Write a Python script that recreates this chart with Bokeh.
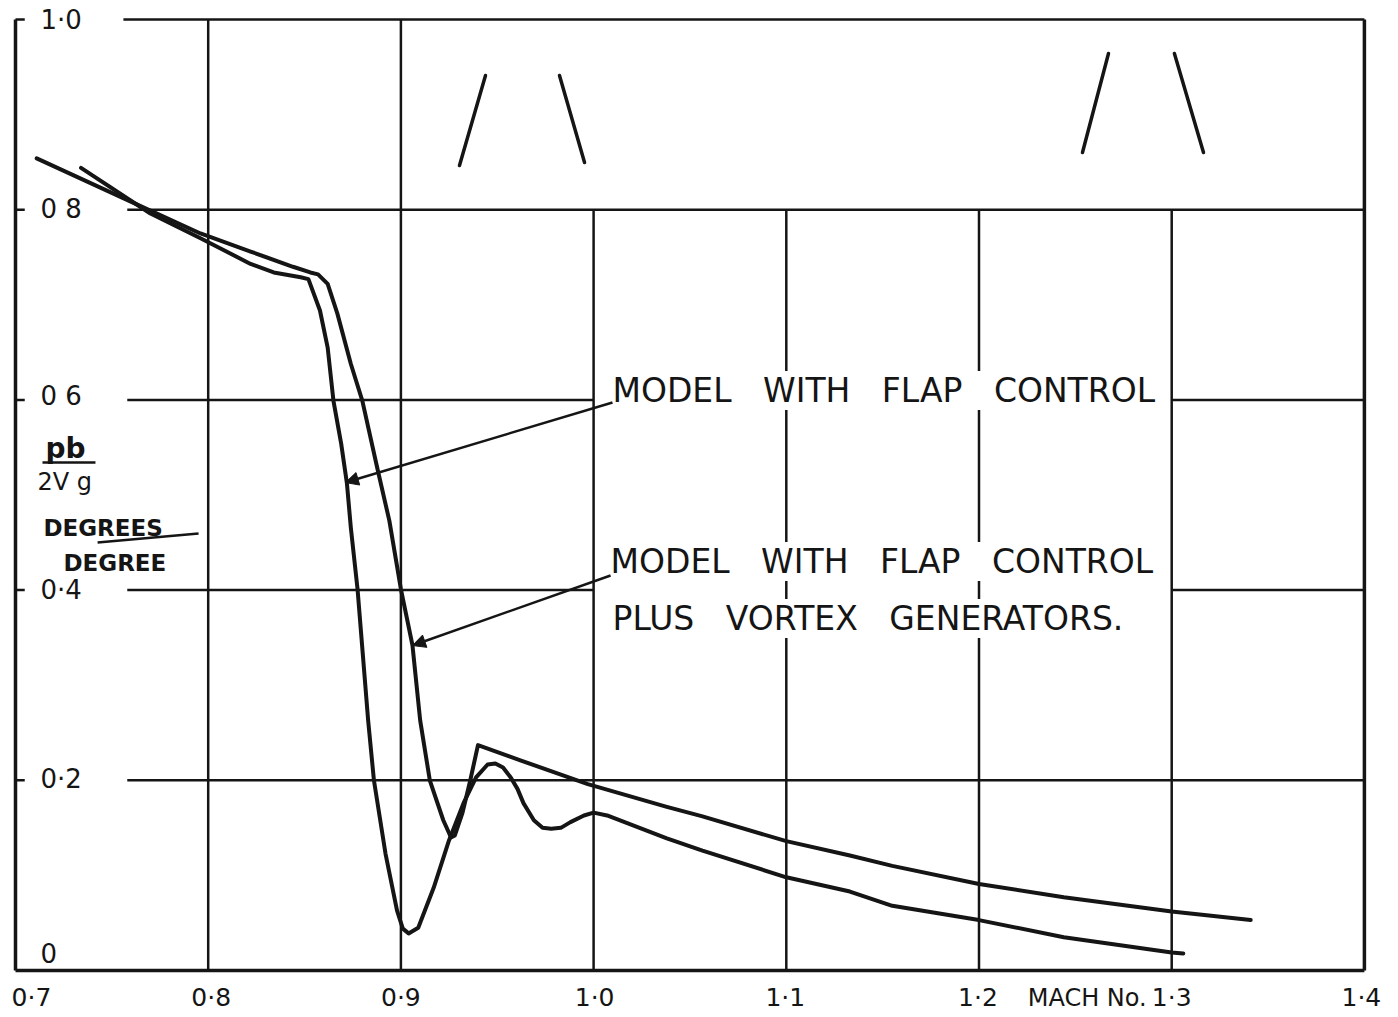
from bokeh.plotting import figure
from bokeh.models import Label, Arrow, NormalHead
from bokeh.embed import file_html
from bokeh.resources import INLINE

# ---- data ----
# Model with flap control
mach_flap = [0.734, 0.770, 0.796, 0.822, 0.834, 0.848, 0.852, 0.858, 0.862, 0.865,
             0.869, 0.872, 0.874, 0.8775, 0.883, 0.886, 0.892, 0.898, 0.901, 0.904,
             0.909, 0.917, 0.925, 0.9325, 0.939, 0.945, 0.949, 0.953, 0.957, 0.9605,
             0.9636, 0.969, 0.9735, 0.978, 0.983, 0.988, 0.995, 1.000, 1.007, 1.038,
             1.0565, 1.100, 1.133, 1.155, 1.200, 1.244, 1.300, 1.306]
roll_flap = [0.844, 0.796, 0.770, 0.743, 0.734, 0.729, 0.727, 0.694, 0.655, 0.599,
             0.554, 0.512, 0.466, 0.401, 0.263, 0.200, 0.123, 0.063, 0.044, 0.039,
             0.045, 0.087, 0.137, 0.176, 0.203, 0.2166, 0.2177, 0.2135, 0.203, 0.191,
             0.176, 0.158, 0.150, 0.149, 0.150, 0.156, 0.163, 0.166, 0.163, 0.139,
             0.126, 0.098, 0.083, 0.068, 0.053, 0.035, 0.019, 0.018]

# Model with flap control plus vortex generators
mach_vg = [0.711, 0.770, 0.796, 0.822, 0.844, 0.853, 0.857, 0.862, 0.867, 0.874,
           0.880, 0.888, 0.894, 0.900, 0.906, 0.910, 0.915, 0.922, 0.926, 0.928,
           0.932, 0.936, 0.940, 0.962, 0.997, 1.038, 1.0565, 1.100, 1.133, 1.155,
           1.200, 1.244, 1.300, 1.341]
roll_vg = [0.854, 0.799, 0.775, 0.756, 0.740, 0.734, 0.732, 0.722, 0.691, 0.638,
           0.599, 0.526, 0.473, 0.401, 0.342, 0.263, 0.200, 0.158, 0.140, 0.142,
           0.166, 0.200, 0.237, 0.221, 0.196, 0.172, 0.162, 0.136, 0.121, 0.110,
           0.091, 0.077, 0.062, 0.053]

x_ticks = [0.7, 0.8, 0.9, 1.0, 1.1, 1.2, 1.3, 1.4]
x_tick_labels = ["0·7", "0·8", "0·9", "1·0", "1·1", "1·2", "1·3", "1·4"]
y_ticks = [0.0, 0.2, 0.4, 0.6, 0.8, 1.0]
y_tick_labels = ["0", "0·2", "0·4", "0 6", "0 8", "1·0"]

# grid as drawn on the sheet
v_grid_x = [0.8, 0.9, 1.0, 1.1, 1.2, 1.3]
v_grid_top = [1.0, 1.0, 0.8, 0.8, 0.8, 0.8]
h_grid_y = [1.0, 0.8, 0.6, 0.6, 0.4, 0.4, 0.2]
h_grid_x0 = [0.756, 0.758, 0.758, 1.3, 0.758, 1.3, 0.758]
h_grid_x1 = [1.4, 1.4, 1.0, 1.4, 1.0, 1.4, 1.4]

# small wedge sketches at the top
sketch_x0 = [0.9304, 0.9823, 1.2537, 1.3014]
sketch_y0 = [0.8465, 0.9411, 0.8601, 0.9643]
sketch_x1 = [0.9439, 0.9953, 1.2672, 1.3165]
sketch_y1 = [0.9411, 0.8496, 0.9643, 0.8601]

INK = "#151515"
FONT = "DejaVu Sans"

W, H = 1390, 1012
PX_X, PX_Y = 1927.0, 951.0          # pixels per unit on each axis
x0 = 0.7 - 15 / PX_X
y1 = 1.0 + 19 / PX_Y

p = figure(width=W, height=H,
           x_range=(x0, x0 + W / PX_X), y_range=(y1 - H / PX_Y, y1),
           output_backend="svg", toolbar_location=None,
           x_axis_location=None, y_axis_location=None,
           min_border_left=0, min_border_right=0,
           min_border_top=0, min_border_bottom=0,
           background_fill_color="white", border_fill_color="white",
           outline_line_color=None)
p.xgrid.visible = False
p.ygrid.visible = False

# frame and grid
p.segment(x0=v_grid_x, y0=0, x1=v_grid_x, y1=v_grid_top, line_width=2.5, line_color=INK)
p.segment(x0=h_grid_x0, y0=h_grid_y, x1=h_grid_x1, y1=h_grid_y, line_width=2.5, line_color=INK)
p.segment(x0=[x_ticks[0], x_ticks[0], x_ticks[-1]], y0=[0, 0, 0],
          x1=[x_ticks[-1], x_ticks[0], x_ticks[-1]], y1=[0, 1.0, 1.0],
          line_width=3.5, line_color=INK)
p.segment(x0=x_ticks[0], y0=y_ticks[1:], x1=x_ticks[0] + 0.0048, y1=y_ticks[1:],
          line_width=2.5, line_color=INK)

# sketches
p.segment(x0=sketch_x0, y0=sketch_y0, x1=sketch_x1, y1=sketch_y1,
          line_width=3.5, line_color=INK, line_cap="round")

# curves
p.line(mach_flap, roll_flap, line_width=4, line_color=INK, line_join="round", line_cap="round")
p.line(mach_vg, roll_vg, line_width=4, line_color=INK, line_join="round", line_cap="round")

# tick labels
x_off = [16, 3, 0, 1, -1, -1, 0, -3]
for xv, txt, dx in zip(x_ticks, x_tick_labels, x_off):
    p.add_layout(Label(x=xv, y=0, text=txt, x_offset=dx, y_offset=-27,
                       text_align="center", text_baseline="middle",
                       text_font=FONT, text_font_size="25px", text_color=INK))
p.add_layout(Label(x=1.3, y=0, text="MACH No.", x_offset=-25, y_offset=-27,
                   text_align="right", text_baseline="middle",
                   text_font=FONT, text_font_size="24px", text_color=INK))

y_off = [18, 1, 0, 4, 1, 0]
for yv, txt, dy in zip(y_ticks, y_tick_labels, y_off):
    p.add_layout(Label(x=0.7, y=yv, text=txt, x_offset=25, y_offset=dy,
                       text_align="left", text_baseline="middle",
                       text_font=FONT, text_font_size="26px", text_color=INK))

# y-axis quantity
p.add_layout(Label(x=0.7156, y=0.549, text="pb", text_align="left", text_baseline="middle",
                   text_font=FONT, text_font_size="28px", text_font_style="bold", text_color=INK))
p.add_layout(Arrow(end=None, x_start=0.714, y_start=0.5342, x_end=0.7415, y_end=0.5342,
                   line_width=2.5, line_color=INK))
p.add_layout(Label(x=0.7114, y=0.514, text="2V g", text_align="left", text_baseline="middle",
                   text_font=FONT, text_font_size="24px", text_color=INK))
p.add_layout(Label(x=0.7145, y=0.4658, text="DEGREES", text_align="left", text_baseline="middle",
                   text_font=FONT, text_font_size="23px", text_font_style="bold", text_color=INK))
p.add_layout(Arrow(end=None, x_start=0.7426, y_start=0.450, x_end=0.7950, y_end=0.4595,
                   line_width=2.5, line_color=INK))
p.add_layout(Label(x=0.7249, y=0.429, text="DEGREE", text_align="left", text_baseline="middle",
                   text_font=FONT, text_font_size="23px", text_font_style="bold", text_color=INK))

# annotations
sp3 = "\u00a0\u00a0\u00a0"
rows = [(1.0098, 0.6099, "MODEL" + sp3 + "WITH" + sp3 + "FLAP" + sp3 + "CONTROL"),
        (1.0088, 0.4301, "MODEL" + sp3 + "WITH" + sp3 + "FLAP" + sp3 + "CONTROL"),
        (1.0098, 0.3701, "PLUS" + sp3 + "VORTEX" + sp3 + "GENERATORS.")]
for xv, yv, txt in rows:
    p.add_layout(Label(x=xv, y=yv, text=txt, text_align="left", text_baseline="middle",
                       text_font=FONT, text_font_size="33px", text_color=INK,
                       background_fill_color="white"))

p.add_layout(Arrow(end=NormalHead(size=13, fill_color=INK, line_color=INK),
                   x_start=1.0098, y_start=0.5973, x_end=0.8712, y_end=0.5131,
                   line_width=2.5, line_color=INK))
p.add_layout(Arrow(end=NormalHead(size=13, fill_color=INK, line_color=INK),
                   x_start=1.0088, y_start=0.4154, x_end=0.906, y_end=0.3417,
                   line_width=2.5, line_color=INK))

open("out.html", "w").write(file_html(p, INLINE))
